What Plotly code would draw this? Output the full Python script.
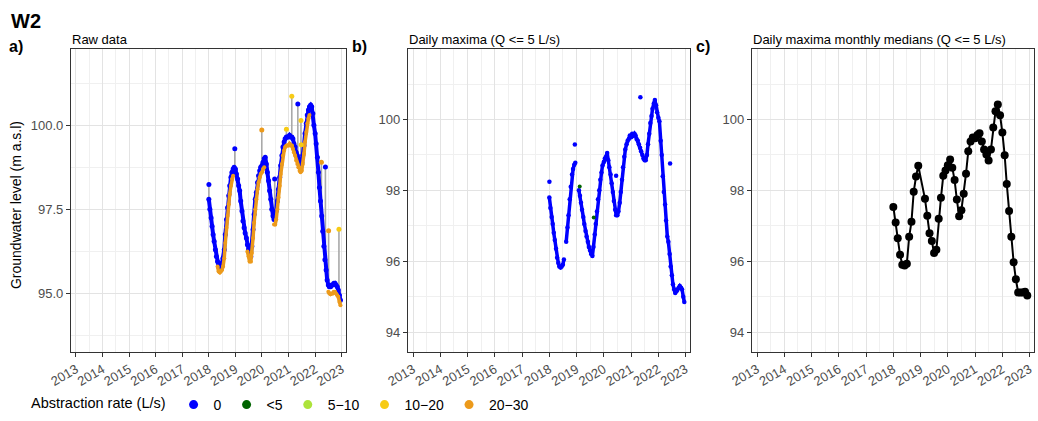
import plotly.graph_objects as go
import pandas as pd

W, H = 1038, 421
FONT = "Liberation Sans"

# ---------------- data ----------------
# half-monthly sampling dates (1st and 15th of each month), 2018-2022
half_dates = pd.date_range("2018-01-01", "2022-12-31", freq="SMS")
month_dates = pd.date_range("2018-01-01", "2022-12-01", freq="MS")

# Panel a: raw data, level with no abstraction (0 L/s)
raw_blue = [
    # 2018
    97.8, 97.5, 97.25, 97.0, 96.75, 96.55, 96.3, 96.1, 95.95, 95.8, 95.78, 95.8,
    95.9, 96.05, 96.3, 96.75, 97.2, 97.55, 97.9, 98.2, 98.45, 98.6, 98.7, 98.75,
    # 2019
    98.7, 98.55, 98.4, 98.2, 98.05, 97.75, 97.45, 97.15, 96.95, 96.8, 96.65, 96.45,
    96.3, 96.15, 96.1, 96.4, 96.9, 97.35, 97.8, 98.0, 98.3, 98.5, 98.65, 98.75,
    # 2020
    98.8, 98.9, 99.0, 99.05, 98.85, 98.6, 98.35, 98.05, 97.8, 97.5, 97.3, 97.2,
    97.25, 97.45, 97.75, 98.1, 98.45, 98.8, 99.1, 99.35, 99.5, 99.6, 99.65, 99.65,
    # 2021
    99.65, 99.7, 99.65, 99.65, 99.6, 99.45, 99.35, 99.2, 99.1, 99.0, 98.9, 98.85,
    98.9, 99.1, 99.4, 99.75, 100.05, 100.3, 100.45, 100.55, 100.6, 100.55, 100.35, 100.0,
    # 2022
    99.75, 99.45, 99.05, 98.6, 98.15, 97.75, 97.3, 96.85, 96.4, 96.0, 95.7, 95.4,
    95.25, 95.2, 95.2, 95.25, 95.25, 95.3, 95.3, 95.25, 95.2, 95.1, 94.95, 94.8,
]

# Panel a: raw data, level while abstracting 20-30 L/s
raw_orange = [
    # 2018
    None, None, None, None, None, None, None, None, 95.8, 95.65, 95.62, 95.65,
    95.7, 95.8, 96.05, 96.5, 96.95, 97.3, 97.65, 97.95, 98.2, 98.4, 98.5, None,
    # 2019
    None, None, None, None, None, None, None, None, None, None, None, 96.25,
    96.1, 95.95, 95.95, 96.2, 96.65, 97.1, 97.5, 97.8, 98.1, 98.3, 98.45, 98.55,
    # 2020
    98.6, 98.7, 98.75, None, None, None, None, None, None, None, None, 97.05,
    97.05, 97.2, 97.5, 97.85, 98.2, 98.55, 98.85, 99.1, 99.25, 99.35, 99.4, 99.4,
    # 2021
    99.4, 99.45, 99.4, 99.4, 99.3, 99.2, 99.1, 98.95, 98.85, 98.75, 98.65, 98.6,
    98.65, 98.85, 99.15, 99.5, 99.8, 100.05, 100.2, 100.3, None, None, None, None,
    # 2022
    None, None, None, None, None, None, None, None, None, None, None, None,
    95.05, 95.0, 94.98, 95.0, 95.0, 95.05, 95.05, 95.0, 94.95, 94.9, 94.75, 94.65,
]

# Panel a: isolated high readings (daily range spikes)
spike_dates = ["2018-01-02", "2018-12-24", "2019-12-30", "2020-06-24", "2020-12-02",
               "2021-02-14", "2021-05-08", "2021-06-20", "2021-06-24", "2022-03-28",
               "2022-05-22", "2022-07-05", "2022-11-24"]
spike_low = [97.8, 98.75, 98.8, 97.25, 99.6, 99.65, 99.1, 98.85, 98.85, 97.4,
             96.5, 95.25, 95.15]
spike_high = [98.24, 99.30, 99.86, 98.40, 99.88, 100.86, 100.63, 100.14, 99.42, 98.90,
              98.76, 96.86, 96.91]
spike_class = ["0", "0", "20−30", "0", "10−20", "10−20", "0", "10−20", "10−20", "20−30",
               "0", "20−30", "10−20"]

# Panel b: daily maxima (Q <= 5 L/s)
dmax_blue = [
    # 2018
    97.8, 97.5, 97.25, 97.05, 96.8, 96.6, 96.35, 96.1, 95.95, 95.85, 95.82, 95.85,
    95.9, 96.05, None, 96.55, 96.95, 97.3, 97.75, 98.1, 98.45, 98.6, 98.72, 98.78,
    # 2019
    None, None, 98.0, 97.85, 97.65, 97.45, 97.25, 97.05, 96.85, 96.7, 96.55, 96.4,
    96.3, 96.2, 96.15, 96.4, 96.75, 97.05, 97.4, 97.75, 98.0, 98.3, 98.5, 98.7,
    # 2020
    98.8, 98.9, 98.95, 99.05, 98.85, 98.65, 98.45, 98.2, 97.95, 97.7, 97.45, 97.3,
    97.3, 97.4, 97.65, 97.95, 98.3, 98.65, 98.95, 99.15, 99.3, 99.4, 99.45, 99.55,
    # 2021
    99.5, 99.6, 99.55, 99.6, 99.55, 99.45, 99.4, 99.3, 99.2, 99.1, 99.0, 98.9,
    98.85, 98.85, 99.0, 99.3, 99.6, 99.9, 100.1, 100.3, 100.45, 100.55, 100.4, 100.2,
    # 2022
    100.05, 99.95, 99.4, 99.0, 98.4, 97.95, 97.6, 97.15, 96.7, 96.55, 96.2, 95.85,
    95.6, 95.35, 95.2, 95.1, 95.15, 95.2, 95.25, 95.3, 95.25, 95.2, 95.0, 94.85,
]
dmax_out_dates = ["2018-01-02", "2018-12-09", "2020-06-14", "2021-05-05", "2022-06-07"]
dmax_out_vals = [98.24, 99.29, 98.41, 100.63, 98.76]
dmax_green_dates = ["2019-02-12", "2019-08-19"]
dmax_green_vals = [98.11, 97.23]

# Panel c: monthly medians of daily maxima
monthly_median = [
    97.53, 97.09, 96.65, 96.18, 95.90, 95.88, 95.93, 96.69, 97.11, 97.96, 98.39, 98.69,  # 2018
    None, None, 97.76, 97.28, 96.79, 96.57, 96.23, 96.32, 97.20, 97.79, 98.41, 98.56,    # 2019
    98.71, 98.87, 98.64, 98.29, 97.74, 97.27, 97.44, 97.90, 98.47, 99.10, 99.38, 99.49,  # 2020
    99.47, 99.56, 99.61, 99.38, 99.15, 99.01, 98.84, 99.15, 99.77, 100.23, 100.42, 100.12,  # 2021
    99.63, 98.99, 98.18, 97.42, 96.69, 95.97, 95.49, 95.12, 95.12, 95.12, 95.14, 95.03,  # 2022
]

legend_classes = ["0", "<5", "5−10", "10−20", "20−30"]
class_colors = {"0": "#0000FF", "<5": "#006400", "5−10": "#ADE33B",
                "10−20": "#F7CB15", "20−30": "#EC9A1B"}

year_ticks = list(range(2013, 2024))

# ---------------- figure ----------------
fig = go.Figure()

# panel a gray spikes
sx, sy = [], []
for d, lo, hi in zip(spike_dates, spike_low, spike_high):
    sx += [d, d, None]
    sy += [lo, hi, None]
fig.add_trace(go.Scatter(x=sx, y=sy, mode="lines", line=dict(color="#A9A9A9", width=1.6),
                         xaxis="x", yaxis="y", showlegend=False, hoverinfo="skip"))
fig.add_trace(go.Scatter(x=half_dates, y=raw_blue, mode="lines+markers",
                         line=dict(color=class_colors["0"], width=4),
                         marker=dict(color=class_colors["0"], size=5),
                         xaxis="x", yaxis="y", showlegend=False))
fig.add_trace(go.Scatter(x=half_dates, y=raw_orange, mode="lines+markers",
                         line=dict(color=class_colors["20−30"], width=3.5),
                         marker=dict(color=class_colors["20−30"], size=4),
                         xaxis="x", yaxis="y", showlegend=False))
fig.add_trace(go.Scatter(x=spike_dates, y=spike_high, mode="markers",
                         marker=dict(color=[class_colors[c] for c in spike_class], size=5),
                         xaxis="x", yaxis="y", showlegend=False))

# panel b
fig.add_trace(go.Scatter(x=half_dates, y=dmax_blue, mode="lines+markers",
                         line=dict(color=class_colors["0"], width=3.5),
                         marker=dict(color=class_colors["0"], size=4.5),
                         xaxis="x2", yaxis="y2", showlegend=False))
fig.add_trace(go.Scatter(x=dmax_out_dates, y=dmax_out_vals, mode="markers",
                         marker=dict(color=class_colors["0"], size=4.5),
                         xaxis="x2", yaxis="y2", showlegend=False))
fig.add_trace(go.Scatter(x=dmax_green_dates, y=dmax_green_vals, mode="markers",
                         marker=dict(color=class_colors["<5"], size=4),
                         xaxis="x2", yaxis="y2", showlegend=False))

# panel c
fig.add_trace(go.Scatter(x=month_dates, y=monthly_median, mode="lines+markers",
                         connectgaps=True,
                         line=dict(color="black", width=2),
                         marker=dict(color="black", size=8),
                         xaxis="x3", yaxis="y3", showlegend=False))

# legend entries
for cls in legend_classes:
    fig.add_trace(go.Scatter(x=[None], y=[None], mode="markers", name=cls,
                             marker=dict(color=class_colors[cls], size=9),
                             xaxis="x", yaxis="y", showlegend=True))

XR = ["2012-10-25", "2023-03-01"]
ytop, ybot = 50, 357
ydom = [1 - ybot / H, 1 - ytop / H]


def xaxis(x0, x1, anchor):
    return dict(domain=[x0 / W, x1 / W], anchor=anchor, type="date", range=XR,
                tickmode="array", tickvals=[f"{y}-01-01" for y in year_ticks],
                ticktext=[str(y) for y in year_ticks], tickangle=-30,
                ticks="outside", ticklen=4, tickwidth=1, tickcolor="#333333",
                tickfont=dict(family=FONT, size=13, color="#4D4D4D"),
                showgrid=True, gridcolor="#E3E3E3", gridwidth=1,
                minor=dict(tickmode="linear", tick0="2013-07-01", dtick="M12",
                           showgrid=True, gridcolor="#F0F0F0", gridwidth=0.7),
                showline=True, linecolor="#333333", linewidth=1.2, mirror=True,
                zeroline=False, automargin=False)


def yaxis(rng, major, minor, fmt, anchor):
    return dict(domain=ydom, anchor=anchor, range=rng, tickmode="array",
                tickvals=major, ticktext=[fmt.format(v) for v in major],
                ticks="outside", ticklen=4, tickwidth=1, tickcolor="#333333",
                tickfont=dict(family=FONT, size=13, color="#4D4D4D"),
                showgrid=True, gridcolor="#E3E3E3", gridwidth=1,
                minor=dict(tickmode="array", tickvals=minor, showgrid=True,
                           gridcolor="#F0F0F0", gridwidth=0.7),
                showline=True, linecolor="#333333", linewidth=1.2, mirror=True,
                zeroline=False, automargin=False)


fig.update_layout(
    width=W, height=H, margin=dict(l=0, r=0, t=0, b=0),
    paper_bgcolor="white", plot_bgcolor="white",
    font=dict(family=FONT, color="black"),
    xaxis=xaxis(71, 346, "y"),
    xaxis2=xaxis(408, 690, "y2"),
    xaxis3=xaxis(752, 1034, "y3"),
    yaxis=yaxis([93.263, 102.256], [95, 97.5, 100], [93.75, 96.25, 98.75, 101.25], "{:.1f}", "x"),
    yaxis2=yaxis([93.44, 101.98], [94, 96, 98, 100], [95, 97, 99, 101], "{:.0f}", "x2"),
    yaxis3=yaxis([93.44, 101.98], [94, 96, 98, 100], [95, 97, 99, 101], "{:.0f}", "x3"),
    legend=dict(orientation="h", x=29 / W, xanchor="left", y=1 - 411 / H, yanchor="middle",
                title=dict(text="Abstraction rate (L/s)", side="left",
                           font=dict(family=FONT, size=14.5)),
                font=dict(family=FONT, size=14), itemwidth=30, bgcolor="rgba(0,0,0,0)"),
    showlegend=True,
)


def ann(text, px, py, size, bold=False, xanchor="left", angle=0):
    fig.add_annotation(text=f"<b>{text}</b>" if bold else text, x=px / W, y=1 - py / H,
                       xref="paper", yref="paper", xanchor=xanchor, yanchor="middle",
                       showarrow=False, textangle=angle,
                       font=dict(family=FONT, size=size, color="black"))


ann("W2", 9, 21, 20, bold=True)
ann("a)", 7, 47, 16, bold=True)
ann("b)", 350, 47, 16, bold=True)
ann("c)", 694, 47, 16, bold=True)
ann("Raw data", 70, 40, 13)
ann("Daily maxima (Q &lt;= 5 L/s)", 407, 40, 13)
ann("Daily maxima monthly medians (Q &lt;= 5 L/s)", 751, 40, 13)
ann("Groundwater level (m a.s.l)", 16, 208, 14, xanchor="center", angle=-90)

fig.write_html("out.html")
